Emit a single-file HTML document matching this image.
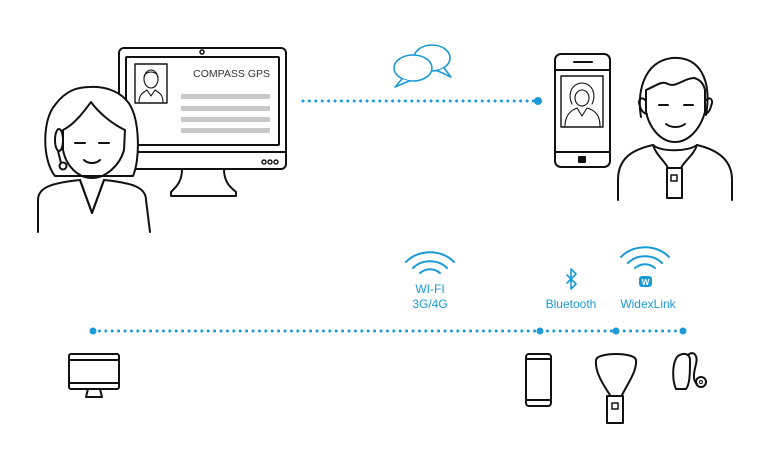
<!DOCTYPE html>
<html><head><meta charset="utf-8"><style>
html,body{margin:0;padding:0;background:#fff;}
svg{display:block;}
text{font-family:"Liberation Sans",sans-serif;}
</style></head><body>
<svg width="768" height="472" viewBox="0 0 768 472" xmlns="http://www.w3.org/2000/svg">
<g fill="none" stroke="#111" stroke-width="2" stroke-linejoin="round" stroke-linecap="round">
<!-- big monitor -->
<rect x="119" y="48" width="167" height="121" rx="5"/>
<rect x="126" y="57" width="153" height="88" rx="1"/>
<line x1="120" y1="152" x2="285" y2="152"/>
<circle cx="202" cy="52" r="2" stroke-width="1.5"/>
<path d="M182 169 C182 182 176 187 171 192 L171 196 L236 196 L236 192 C230 187 224 182 224 169"/>
<circle cx="264" cy="162" r="2" stroke-width="1.4"/>
<circle cx="270" cy="162" r="2" stroke-width="1.4"/>
<circle cx="276" cy="162" r="2" stroke-width="1.4"/>
<!-- photo in monitor -->
<rect x="135" y="64" width="32" height="39" stroke-width="1.4"/>
<g stroke-width="1.1">
<ellipse cx="151" cy="79" rx="7" ry="9"/>
<path d="M144 78 C144 70 158 70 158 78"/>
<path d="M139 102 C139 94 144 92 147 90 L151 96 L155 90 C158 92 163 94 163 102"/>
</g>
<!-- woman -->
<path d="M55 176 C42 160 42 120 55 105 C66 90 78 87 90 87 C106 86 122 92 130 105 C140 122 140 160 133 176 Z" fill="#fff"/>
<path d="M63 130 C75 124 85 110 91 102 C98 112 112 124 125 130 L124 150 C120 165 106 178 92 178 C78 178 66 166 63 150 Z"/>
<path d="M38 232 L38 200 C38 188 50 183 80 180 L92 213 L104 180 C134 183 146 188 146 200 L150 232" fill="#fff"/>
<path d="M80 180 L92 213 L104 180"/>
<line x1="75" y1="143" x2="85" y2="143"/>
<line x1="99" y1="143" x2="109" y2="143"/>
<path d="M84 160 C88 164 96 164 100 160"/>
<ellipse cx="59" cy="140" rx="4" ry="11"/>
<path d="M58 151 L61 163"/>
<circle cx="63" cy="166" r="3.5"/>
<!-- phone top -->
<rect x="555" y="54" width="55" height="113" rx="6"/>
<line x1="556" y1="70" x2="609" y2="70"/>
<line x1="556" y1="152" x2="609" y2="152"/>
<line x1="574" y1="62" x2="592" y2="62"/>
<rect x="579" y="157" width="6" height="5" fill="#111"/>
<rect x="561" y="76" width="42" height="51" stroke-width="1.4"/>
<g stroke-width="1.1">
<path d="M572 104 C568 96 570 84 582 83 C594 84 596 96 592 104"/>
<ellipse cx="582" cy="98" rx="7" ry="8"/>
<path d="M565 126 C565 114 572 110 577 108 L582 116 L587 108 C594 110 600 114 600 126"/>
</g>
<!-- man -->
<path d="M641 117 C637 95 642 62 672 58 C700 56 712 80 706 115" />
<path d="M645 100 C642 96 637 100 640 106 C641 112 646 114 647 114"/>
<path d="M706 100 C710 96 714 100 711 106 C710 112 706 114 705 114"/>
<path d="M646 90 C656 86 662 80 668 84 C676 88 684 78 694 78 C702 80 704 86 705 90 L705 112 C700 130 688 142 675 142 C662 142 650 130 646 112 Z"/>
<line x1="659" y1="105" x2="668" y2="105"/>
<line x1="684" y1="105" x2="693" y2="105"/>
<path d="M666 124 C671 128 680 128 685 124"/>
<path d="M618 200 L618 180 C618 160 630 150 653 145 C660 152 688 152 697 145 C718 150 732 160 732 180 L732 200"/>
<path d="M653 145 C656 155 664 160 668 168 M697 145 C694 155 685 160 681 168"/>
<rect x="667" y="168" width="15" height="30"/>
<rect x="671" y="175" width="6" height="6" stroke-width="1.5"/>
<!-- small monitor -->
<rect x="69" y="354" width="50" height="35" rx="2"/>
<line x1="70" y1="360" x2="118" y2="360"/>
<line x1="70" y1="383" x2="118" y2="383"/>
<path d="M88 389 L86 397 L102 397 L100 389"/>
<!-- small phone -->
<rect x="526" y="354" width="25" height="52" rx="3"/>
<line x1="527" y1="359" x2="550" y2="359"/>
<line x1="527" y1="400" x2="550" y2="400"/>
<!-- pendant -->
<path d="M610 395 C600 380 595 370 596 360 C597 352 635 352 636 360 C637 370 630 380 622 395"/>
<rect x="607" y="396" width="16" height="27"/>
<rect x="612" y="403" width="6" height="6" stroke-width="1.5"/>
<!-- hearing aid -->
<path d="M676 389 C672 380 672 362 678 356 C684 352 690 354 690 360 C690 372 690 384 686 389 Z"/>
<path d="M688 355 C694 350 698 356 696 364 C694 372 692 380 697 384"/>
<circle cx="701" cy="382" r="5"/>
<circle cx="701" cy="382" r="1.5" stroke-width="1"/>
</g>
<!-- grey bars -->
<g fill="#c8c8c8">
<rect x="181" y="94" width="89" height="5"/>
<rect x="181" y="106" width="89" height="5"/>
<rect x="181" y="117" width="89" height="5"/>
<rect x="181" y="128" width="89" height="5"/>
</g>
<text x="270" y="77" font-size="10.5" text-anchor="end" fill="#333">COMPASS GPS</text>
<!-- blue elements -->
<g fill="none" stroke="#1a9ad6" stroke-width="2" stroke-linecap="round" stroke-linejoin="round">
<line x1="303" y1="101" x2="535" y2="101" stroke-dasharray="0 6.4" stroke-width="3"/>
<line x1="93" y1="331" x2="683" y2="331" stroke-dasharray="0 6.4" stroke-width="3"/>
<!-- back bubble -->
<ellipse cx="432" cy="58" rx="18" ry="13" stroke-width="1.6"/>
<path d="M444 68 L451 77 L438 71" stroke-width="1.6" fill="#fff"/>
<!-- front bubble -->
<ellipse cx="413" cy="68" rx="19" ry="13" stroke-width="1.6" fill="#fff"/>
<path d="M402 79 L395 87 L409 81" stroke-width="1.6" fill="#fff"/>
<!-- wifi -->
<path d="M406 262 C418 249 442 249 454 262"/>
<path d="M413 268 C422 259 438 259 447 268"/>
<path d="M420 273 C426 268 434 268 440 273"/>
<!-- widexlink -->
<path d="M621 257 C633 244 657 244 669 257"/>
<path d="M628 263 C637 254 653 254 662 263"/>
<path d="M635 268 C641 263 649 263 655 268"/>
<!-- bluetooth -->
<path d="M567 275 L576 284 L571 289 L571 269 L576 274 L567 283" stroke-width="1.6"/>
</g>
<rect x="639" y="276" width="13" height="11" rx="3" fill="#1a9ad6"/>
<text x="645.5" y="285" font-size="8" font-weight="bold" text-anchor="middle" fill="#fff">W</text>
<g fill="#1a9ad6">
<circle cx="538" cy="101" r="4"/>
<circle cx="93" cy="331" r="3.5"/>
<circle cx="540" cy="331" r="3.5"/>
<circle cx="616" cy="331" r="3.5"/>
<circle cx="683" cy="331" r="3.5"/>
</g>
<g font-size="12" fill="#1a9ad6" text-anchor="middle">
<text x="430" y="293">WI-FI</text>
<text x="430" y="308">3G/4G</text>
<text x="571" y="308">Bluetooth</text>
<text x="648" y="308">WidexLink</text>
</g>
</svg>
</body></html>
